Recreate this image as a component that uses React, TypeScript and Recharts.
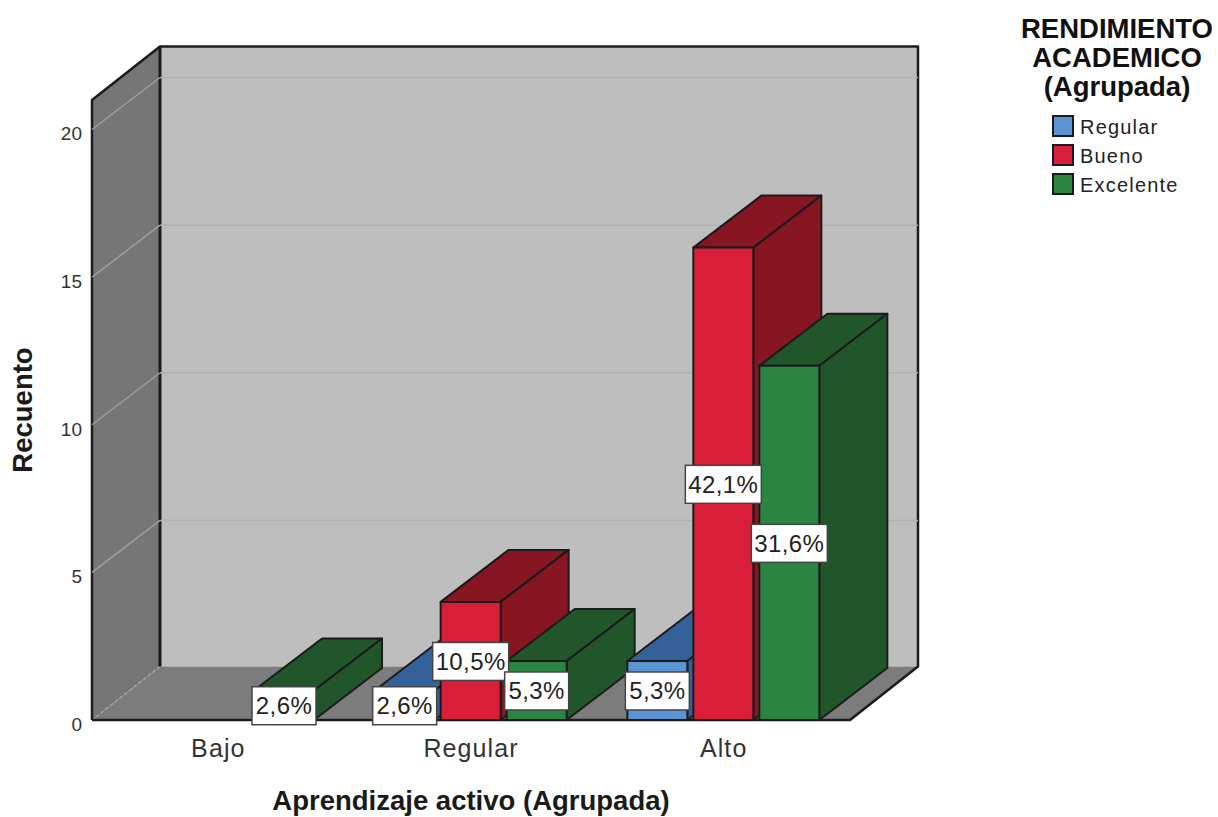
import React from 'react';
import { BarChart, Bar, XAxis, YAxis, Legend, LabelList, ReferenceArea, ReferenceLine } from 'recharts';

// Counts per learning level, one list per academic result
const categories = ['Bajo', 'Regular', 'Alto'];
const regular = [null, 1, 2];
const bueno = [null, 4, 16];
const excelente = [1, 2, 12];
const totalCases = 38;
const gridTicks = [5, 10, 15, 20];
const yTicks = [0, 5, 10, 15, 20];
const legendTitle = ['RENDIMIENTO', 'ACADEMICO', '(Agrupada)'];

const rows = categories.map((name, i) => ({
  name,
  regular: regular[i],
  bueno: bueno[i],
  excelente: excelente[i],
}));

const seriesList = [
  { key: 'regular', name: 'Regular', front: '#5b93d3', side: '#34619a' },
  { key: 'bueno', name: 'Bueno', front: '#d81e38', side: '#871522' },
  { key: 'excelente', name: 'Excelente', front: '#2a8442', side: '#21552a' },
];

const FONT = '"Liberation Sans", Arial, sans-serif';
const OUTLINE = '#1b1b1b';
// Oblique projection of the box and of the bars inside it
const DX = 68;
const WALL_DY = 53.5;
const BAR_DY = 52;

const pts = (list: number[][]) => list.map((p) => p.join(',')).join(' ');

// Extruded bar: front face from the scale, top and side faces offset by the depth
const boxShape = (sideColor: string) => (props: any) => {
  const { x, y, width, height, fill } = props;
  if (!height) return <g />;
  const r = x + width;
  const b = y + height;
  return (
    <g stroke={OUTLINE} strokeWidth={2} strokeLinejoin="round">
      <polygon
        points={pts([[x, y], [x + DX, y - BAR_DY], [r + DX, y - BAR_DY], [r, y]])}
        fill={sideColor}
      />
      <polygon
        points={pts([[r, y], [r + DX, y - BAR_DY], [r + DX, b - BAR_DY], [r, b]])}
        fill={sideColor}
      />
      <rect x={x} y={y} width={width} height={height} fill={fill} />
    </g>
  );
};

// Left wall, floor and back wall of the plotting box
const Walls = (props: any) => {
  const { x, y, width, height } = props;
  const r = x + width;
  const b = y + height;
  const bx = x + DX;
  const rx = r + DX;
  const ty = y - WALL_DY;
  const by = b - WALL_DY;
  return (
    <g>
      <rect x={bx} y={ty} width={width} height={height} fill="#bebebe" />
      <polygon points={pts([[x, y], [bx, ty], [bx, by], [x, b]])} fill="#767676" />
      <polygon points={pts([[x, b], [bx, by], [rx, by], [r, b]])} fill="#7c7c7c" />
      <line x1={bx} y1={by} x2={x} y2={b} stroke="#a8a8a8" strokeWidth={1.5} strokeDasharray="3 3" />
      <polyline
        points={pts([[x, b], [x, y], [bx, ty], [rx, ty], [rx, by], [r, b], [x, b]])}
        fill="none"
        stroke={OUTLINE}
        strokeWidth={2.5}
        strokeLinejoin="round"
      />
      <line x1={bx} y1={ty} x2={bx} y2={by} stroke={OUTLINE} strokeWidth={3} />
    </g>
  );
};

// A gridline runs along the left wall and then across the back wall
const WallGridLine = (props: any) => {
  const { x1, y1, x2 } = props;
  return (
    <g fill="none">
      <line x1={x1} y1={y1} x2={x1 + DX} y2={y1 - BAR_DY} stroke="#9e9e9e" strokeWidth={1.5} />
      <line x1={x1 + DX} y1={y1 - BAR_DY} x2={x2 + DX} y2={y1 - BAR_DY} stroke="#b1b1b1" strokeWidth={1.5} />
    </g>
  );
};

// White percentage tag centred on the front face of a bar
const PercentTag = (props: any) => {
  const { x, y, width, height, value } = props;
  if (value === null || value === undefined) return <g />;
  const text = `${((value / totalCases) * 100).toFixed(1).replace('.', ',')}%`;
  const w = text.length > 4 ? 76 : 64;
  const h = 38;
  const cx = x + width / 2;
  const cy = y + height / 2 + 0.5;
  return (
    <g>
      <rect x={cx - w / 2} y={cy - h / 2} width={w} height={h} fill="#fff" stroke="#444" strokeWidth={1.5} />
      <text
        x={cx}
        y={cy + 8.5}
        textAnchor="middle"
        fontFamily={FONT}
        fontSize={24}
        letterSpacing={0.4}
        fill="#222"
        stroke="none"
      >
        {text}
      </text>
    </g>
  );
};

const LegendBox = ({ payload }: any) => (
  <div style={{ fontFamily: FONT, color: '#222' }}>
    <div style={{ fontWeight: 700, fontSize: 27.5, lineHeight: '29px', textAlign: 'center', color: '#111' }}>
      {legendTitle.map((line) => (
        <div key={line}>{line}</div>
      ))}
    </div>
    <div style={{ marginTop: 10.5, marginLeft: 36 }}>
      {(payload || [])
        .filter((item: any) => item.type !== 'none')
        .map((item: any) => (
          <div key={item.value} style={{ display: 'flex', alignItems: 'center', height: 29 }}>
            <span
              style={{
                width: 18,
                height: 18,
                background: item.color,
                border: `2px solid ${OUTLINE}`,
                marginRight: 6,
                flex: 'none',
              }}
            />
            <span style={{ fontSize: 20, letterSpacing: 1.2, position: 'relative', top: 1 }}>{item.value}</span>
          </div>
        ))}
    </div>
  </div>
);

// Each category gets its own axis so that its bars paint after the previous group's depth faces
export default function App() {
  return (
    <div style={{ position: 'absolute', left: 0, top: 0 }}>
      <BarChart
        width={1218}
        height={817}
        data={rows}
        margin={{ top: 100, right: 368, bottom: 0, left: 0 }}
        barSize={60}
        barGap={6}
        style={{ fontFamily: FONT }}
      >
        {categories.map((cat, ci) => (
          <XAxis
            key={cat}
            xAxisId={cat}
            dataKey="name"
            hide={ci > 0}
            height={ci > 0 ? 0 : 97}
            axisLine={false}
            tickLine={false}
            tickMargin={13}
            tick={{ fontSize: 25, fill: '#333', fontFamily: FONT, letterSpacing: 1.1 }}
            label={{
              value: 'Aprendizaje activo (Agrupada)',
              position: 'insideBottom',
              offset: 7,
              style: { fontSize: 27.5, fontWeight: 700, fill: '#1a1a1a', fontFamily: FONT },
            }}
          />
        ))}
        <YAxis
          width={92}
          domain={[0, 21]}
          ticks={yTicks}
          interval={0}
          axisLine={false}
          tickLine={false}
          tickMargin={4}
          tick={{ fontSize: 19, fill: '#333', fontFamily: FONT, dy: 4 }}
          label={{
            value: 'Recuento',
            angle: -90,
            position: 'insideLeft',
            offset: 22,
            style: { fontSize: 27.5, fontWeight: 700, fill: '#1a1a1a', fontFamily: FONT, textAnchor: 'middle' },
          }}
        />
        <ReferenceArea xAxisId={categories[0]} y1={0} y2={21} shape={<Walls />} zIndex={10} />
        {gridTicks.map((t) => (
          <ReferenceLine key={t} xAxisId={categories[0]} y={t} shape={<WallGridLine />} zIndex={20} />
        ))}
        <Legend
          layout="vertical"
          align="center"
          verticalAlign="middle"
          itemSorter={null}
          content={<LegendBox />}
          wrapperStyle={{ left: 1016, top: 14, width: 202, bottom: 'auto', right: 'auto' }}
        />
        {categories.map((cat, ci) =>
          seriesList.map((s) => (
            <Bar
              key={`${cat}-${s.key}`}
              xAxisId={cat}
              dataKey={(row: any) => (row.name === cat ? row[s.key] : null)}
              name={s.name}
              fill={s.front}
              legendType={ci === 0 ? 'square' : 'none'}
              isAnimationActive={false}
              shape={boxShape(s.side)}
            >
              <LabelList content={<PercentTag />} />
            </Bar>
          )),
        )}
      </BarChart>
    </div>
  );
}
